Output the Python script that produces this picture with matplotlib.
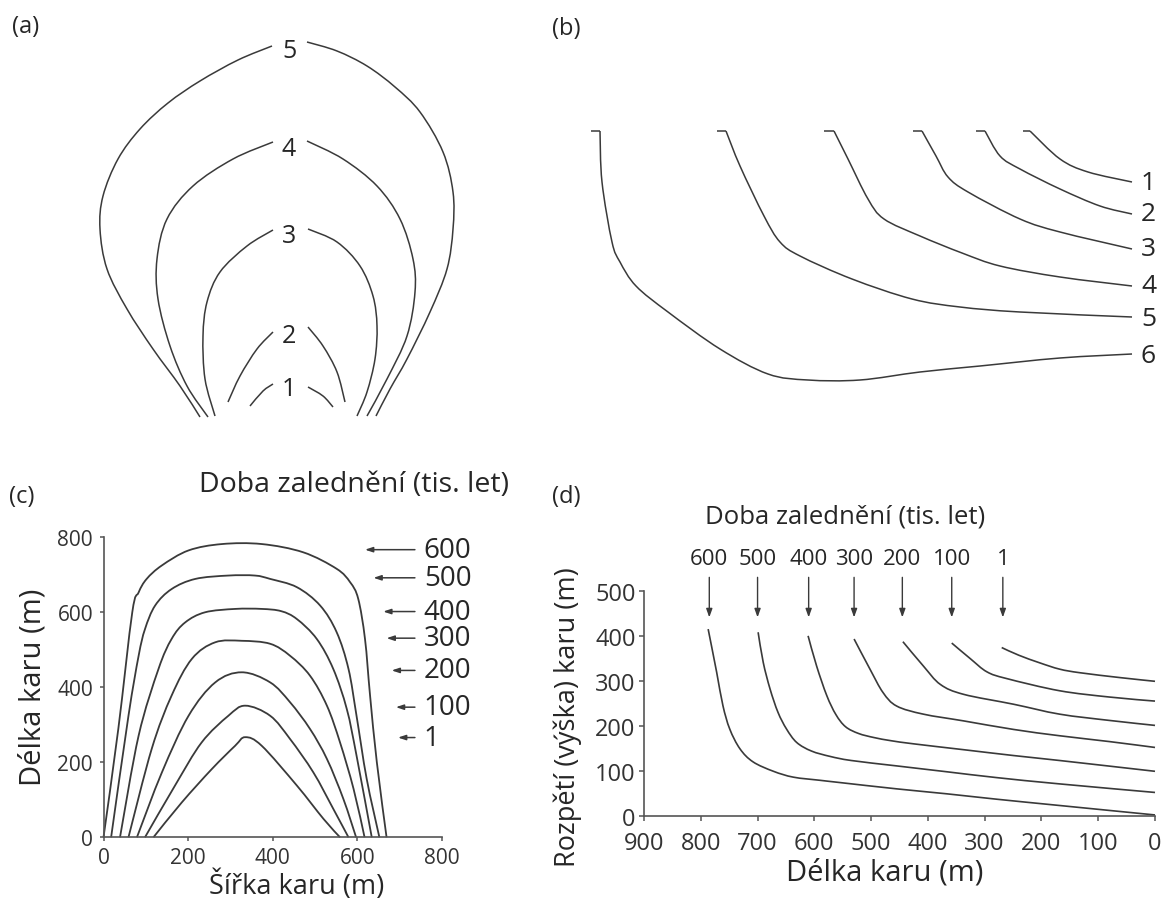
import matplotlib.pyplot as plt
from matplotlib.path import Path
from matplotlib.patches import PathPatch

plt.rcParams['font.family'] = ['Open Sans', 'DejaVu Sans']

W, H = 1167, 904
LINE = '#3a3a3a'
TXT = '#262626'

# ---- (a) sketch: stages 1..5, left and right branch (sketch units) ----
a_stages = ['1', '2', '3', '4', '5']
a_left_x = [[273, 263, 250],
            [273, 257, 240, 228],
            [273, 247, 220, 207, 203, 205, 215],
            [273, 233, 193, 167, 157, 158, 170, 187, 208],
            [272, 238, 200, 168, 140, 118, 103, 100, 107, 127, 153, 180, 200]]
a_left_y = [[385, 392, 407],
            [333, 350, 377, 403],
            [231, 247, 273, 303, 337, 380, 417],
            [143, 160, 187, 220, 260, 300, 347, 387, 418],
            [47, 61, 82, 104, 130, 160, 197, 230, 270, 310, 350, 387, 418]]
a_right_x = [[308, 323, 333],
             [308, 323, 337, 345],
             [308, 337, 360, 373, 377, 375, 367, 357],
             [307, 343, 377, 400, 413, 415, 407, 387, 367],
             [307, 337, 367, 395, 420, 443, 453, 453, 447, 430, 407, 390, 376]]
a_right_y = [[388, 397, 408],
             [328, 347, 373, 403],
             [230, 243, 267, 297, 327, 360, 393, 417],
             [142, 160, 187, 220, 260, 293, 337, 380, 417],
             [43, 52, 67, 88, 113, 153, 193, 230, 270, 313, 360, 390, 417]]
a_label_y = [390, 337, 237, 150, 52]

# ---- (b) sketch: stages 1..6 (first point = left end of the small top hook) ----
b_stages = ['1', '2', '3', '4', '5', '6']
b_x = [[1023, 1030, 1060, 1088, 1132],
       [976, 985, 1000, 1020, 1060, 1100, 1132],
       [913, 922, 936, 948, 968, 1020, 1060, 1132],
       [824, 834, 848, 868, 884, 920, 962, 1000, 1060, 1132],
       [717, 726, 740, 764, 780, 800, 852, 912, 960, 1020, 1132],
       [591, 600, 602, 612, 620, 636, 668, 720, 768, 808, 860, 920, 980, 1060, 1132]]
b_y = [[132, 132, 160, 173, 183],
       [132, 132, 157, 170, 190, 207, 215],
       [132, 132, 157, 178, 193, 220, 233, 250],
       [132, 132, 160, 200, 220, 237, 254, 267, 278, 287],
       [132, 132, 167, 217, 243, 257, 280, 300, 308, 313, 318],
       [132, 132, 183, 243, 263, 287, 313, 350, 375, 381, 381, 373, 367, 359, 355]]
b_label_y = [183, 215, 250, 287, 320, 357]

# ---- (c) cirque width vs length by glaciation time ----
c_ages = ['600', '500', '400', '300', '200', '100', '1']
c_x = [[0, 35, 68, 83, 102, 138, 201, 280, 374, 472, 551, 583, 602, 618, 630, 646, 669],
       [18, 59, 83, 98, 122, 161, 217, 295, 358, 394, 457, 512, 551, 579, 598, 622, 652],
       [39, 83, 130, 161, 193, 240, 311, 374, 420, 457, 504, 543, 575, 598, 634],
       [59, 114, 161, 209, 264, 327, 394, 441, 488, 528, 559, 591, 617],
       [79, 138, 201, 264, 327, 394, 441, 488, 528, 567, 597],
       [98, 169, 232, 295, 335, 394, 441, 496, 543, 579],
       [118, 185, 256, 311, 335, 374, 457, 520, 559]]
c_y = [[0, 289, 600, 653, 689, 725, 765, 782, 782, 760, 716, 680, 636, 529, 378, 200, 0],
       [0, 324, 484, 555, 618, 662, 689, 698, 698, 689, 667, 618, 547, 449, 324, 156, 0],
       [0, 271, 449, 529, 573, 600, 609, 609, 603, 582, 529, 449, 342, 218, 0],
       [0, 236, 378, 476, 520, 524, 516, 484, 431, 351, 253, 129, 0],
       [0, 173, 324, 413, 440, 413, 360, 289, 209, 102, 0],
       [0, 138, 253, 324, 351, 324, 262, 173, 76, 0],
       [0, 93, 182, 244, 267, 244, 138, 49, 0]]
c_arrow_y = [767, 692, 602, 531, 445, 347, 266]
c_arrow_head = [618, 638, 661, 669, 681, 691, 696]

# ---- (d) cirque length vs height ----
d_ages = ['600', '500', '400', '300', '200', '100', '1']
d_x = [[787, 772, 761, 749, 731, 708, 672, 637, 590, 555, 455, 367, 279, 168, 0],
       [699, 690, 678, 664, 649, 631, 605, 572, 535, 455, 367, 279, 168, 0],
       [611, 596, 578, 562, 545, 522, 495, 465, 425, 337, 249, 168, 0],
       [530, 502, 479, 455, 408, 337, 249, 168, 80, 0],
       [444, 408, 378, 337, 249, 168, 80, 0],
       [358, 325, 296, 261, 168, 80, 0],
       [270, 240, 203, 168, 132, 60, 0]]
d_y = [[416, 320, 246, 194, 150, 121, 100, 87, 80, 75, 61, 50, 38, 24, 3],
       [409, 342, 283, 231, 194, 164, 145, 133, 124, 112, 99, 86, 72, 53],
       [401, 334, 268, 226, 199, 184, 175, 168, 161, 148, 135, 124, 100],
       [394, 327, 275, 245, 227, 212, 193, 179, 166, 153],
       [388, 334, 293, 271, 249, 227, 213, 202],
       [385, 350, 321, 306, 279, 265, 256],
       [375, 358, 341, 327, 319, 308, 300]]
d_arrow_x = [785, 700, 610, 530, 445, 358, 268]

title = 'Doba zalednění (tis. let)'

fig = plt.figure(figsize=(W / 100, H / 100), dpi=100)


def ftext(x, y, s, **kw):
    # place text by pixel position on the figure
    kw.setdefault('color', TXT)
    kw.setdefault('ha', 'center')
    kw.setdefault('va', 'center')
    fig.text(x / W, 1 - y / H, s, **kw)


def curve(ax, xs, ys, lw):
    # smooth line through the read points (Catmull-Rom drawn as Bezier pieces)
    pts = list(zip(xs, ys))
    verts = [pts[0]]
    codes = [Path.MOVETO]
    n = len(pts)
    for i in range(n - 1):
        p0 = pts[i - 1] if i > 0 else pts[i]
        p1, p2 = pts[i], pts[i + 1]
        p3 = pts[i + 2] if i + 2 < n else pts[i + 1]
        c1 = (p1[0] + (p2[0] - p0[0]) / 6, p1[1] + (p2[1] - p0[1]) / 6)
        c2 = (p2[0] - (p3[0] - p1[0]) / 6, p2[1] - (p3[1] - p1[1]) / 6)
        verts += [c1, c2, p2]
        codes += [Path.CURVE4] * 3
    ax.add_patch(PathPatch(Path(verts, codes), fill=False, ec=LINE, lw=lw,
                           capstyle='butt', joinstyle='round', clip_on=False))


# panel (a)
ax_a = fig.add_axes([0, 1 - 440 / H, 540 / W, 440 / H])
ax_a.set_xlim(0, 540)
ax_a.set_ylim(440, 0)
ax_a.axis('off')
for i, s in enumerate(a_stages):
    curve(ax_a, a_left_x[i], a_left_y[i], 1.1)
    curve(ax_a, a_right_x[i], a_right_y[i], 1.1)
    ax_a.text(289, a_label_y[i], s, ha='center', va='center', fontsize=18, color=TXT)

# panel (b): straight little hook, then the smooth profile
ax_b = fig.add_axes([540 / W, 1 - 440 / H, 627 / W, 440 / H])
ax_b.set_xlim(540, 1167)
ax_b.set_ylim(440, 0)
ax_b.axis('off')
for i, s in enumerate(b_stages):
    ax_b.plot(b_x[i][:2], b_y[i][:2], color=LINE, lw=1.1, solid_capstyle='butt')
    curve(ax_b, b_x[i][1:], b_y[i][1:], 1.1)
    ax_b.text(1141, b_label_y[i], s, ha='left', va='center', fontsize=19, color=TXT)

ftext(26, 27, '(a)', fontsize=17)
ftext(566, 29, '(b)', fontsize=17)

# panel (c)
ax_c = fig.add_axes([103.5 / W, (H - 838.3) / H, 338.5 / W, 300 / H])
for i, age in enumerate(c_ages):
    curve(ax_c, c_x[i], c_y[i], 1.3)
    ax_c.annotate('', xy=(c_arrow_head[i], c_arrow_y[i]), xytext=(736, c_arrow_y[i]),
                  arrowprops=dict(arrowstyle='-|>,head_length=0.45,head_width=0.15',
                                  color=LINE, lw=1.1, shrinkA=0, shrinkB=0),
                  annotation_clip=False)
    ax_c.text(757, c_arrow_y[i], age, ha='left', va='center', fontsize=20, color=TXT,
              clip_on=False)
ax_c.set_xlim(0, 800)
ax_c.set_ylim(0, 800)
ax_c.set_xticks([0, 200, 400, 600, 800])
ax_c.set_yticks([0, 200, 400, 600, 800])
ax_c.spines[['top', 'right']].set_visible(False)
for sp in ['left', 'bottom']:
    ax_c.spines[sp].set_color('#555555')
    ax_c.spines[sp].set_linewidth(1.2)
ax_c.tick_params(length=3, width=1.1, color='#555555', labelsize=15, labelcolor='#333333')
ax_c.tick_params(axis='x', pad=4)
ax_c.tick_params(axis='y', pad=4.5)

ftext(22, 497, '(c)', fontsize=17)
ftext(354, 485, title, fontsize=20.5)
ftext(33, 687, 'Délka karu (m)', fontsize=21, rotation=90)
ftext(297, 886, 'Šířka karu (m)', fontsize=19.5)

# panel (d)
ax_d = fig.add_axes([644 / W, (H - 817.3) / H, 511 / W, 225 / H])
for i, age in enumerate(d_ages):
    curve(ax_d, d_x[i], d_y[i], 1.2)
    ax_d.annotate('', xy=(d_arrow_x[i], 442), xytext=(d_arrow_x[i], 531),
                  arrowprops=dict(arrowstyle='-|>,head_length=0.5,head_width=0.18',
                                  color=LINE, lw=1.0, shrinkA=0, shrinkB=0),
                  annotation_clip=False)
    ax_d.text(d_arrow_x[i], 573, age, ha='center', va='center', fontsize=16, color=TXT,
              clip_on=False)
ax_d.set_xlim(900, 0)
ax_d.set_ylim(0, 500)
ax_d.set_xticks(range(900, -1, -100))
ax_d.set_yticks(range(0, 501, 100))
ax_d.spines[['top', 'right']].set_visible(False)
for sp in ['left', 'bottom']:
    ax_d.spines[sp].set_color('#555555')
    ax_d.spines[sp].set_linewidth(1.2)
ax_d.tick_params(length=3.5, width=1.1, color='#555555', labelsize=17, labelcolor='#333333')
ax_d.tick_params(axis='x', pad=7)
ax_d.tick_params(axis='y', pad=2.5)

ftext(566, 497, '(d)', fontsize=17)
ftext(845, 517, title, fontsize=18.5)
ftext(568, 717, 'Rozpětí (výška) karu (m)', fontsize=19.5, rotation=90)
ftext(885, 873, 'Délka karu (m)', fontsize=21)

fig.savefig('out.png', dpi=100)
